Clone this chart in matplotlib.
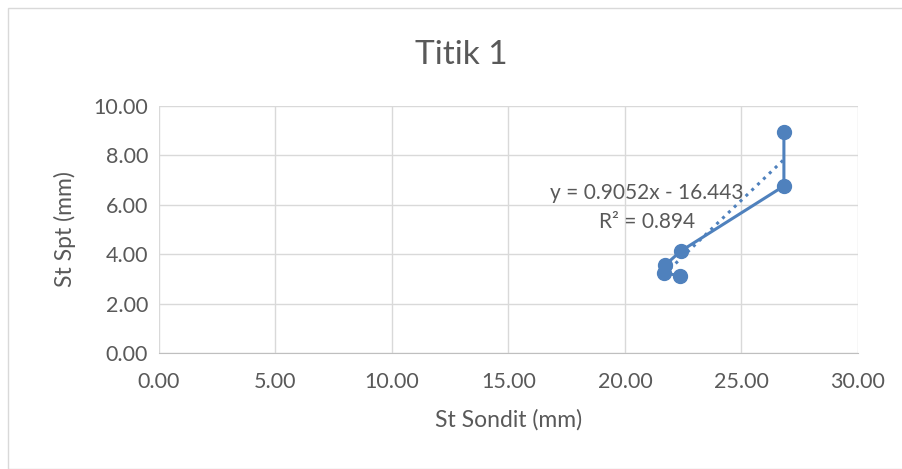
import matplotlib.pyplot as plt
from matplotlib.patches import Rectangle

# data
st_sondit = [22.36, 21.67, 21.72, 22.40, 26.82, 26.82]
st_spt = [3.13, 3.24, 3.56, 4.13, 6.76, 8.95]

slope = 0.9052
intercept = -16.443
r2 = 0.894

x_ticks = [0, 5, 10, 15, 20, 25, 30]
y_ticks = [0, 2, 4, 6, 8, 10]

blue = '#4F81BD'
grey_txt = '#595959'
plt.rcParams['font.family'] = ['Lato', 'DejaVu Sans']

fig = plt.figure(figsize=(9.03, 4.69), dpi=100)
fig.patches.append(Rectangle((8/903, 0), 1, 1 - 8/469, transform=fig.transFigure,
                             fill=False, edgecolor='#D9D9D9', lw=1))
ax = fig.add_axes([159/903, 116/469, 699/903, 247/469])

ax.plot(st_sondit, st_spt, '-o', color=blue, lw=2.2, markersize=10)

# linear trend line
xs = [min(st_sondit), max(st_sondit)]
ax.plot(xs, [slope*x + intercept for x in xs], ':', color=blue, lw=2.2)
ax.text(20.94, 6.48, 'y = 0.9052x - 16.443', ha='center', va='center',
        fontsize=15, color=grey_txt)
ax.text(20.94, 5.30, 'R² = %.3f' % r2, ha='center', va='center',
        fontsize=15, color=grey_txt)

ax.set_xlim(0, 30)
ax.set_ylim(0, 10)
ax.set_xticks(x_ticks)
ax.set_yticks(y_ticks)
ax.set_xticklabels(['%.2f' % v for v in x_ticks])
ax.set_yticklabels(['%.2f' % v for v in y_ticks])
ax.grid(True, color='#D9D9D9', lw=1)
ax.set_axisbelow(True)
for s in ['top', 'right', 'left']:
    ax.spines[s].set_visible(False)
ax.spines['bottom'].set_color('#BFBFBF')
ax.tick_params(axis='x', length=0, labelsize=15.5, colors=grey_txt, pad=14)
ax.tick_params(axis='y', length=0, labelsize=15.5, colors=grey_txt, pad=8)

fig.text(461/903, 1 - 55/469, 'Titik 1', ha='center', va='center',
         fontsize=24, color=grey_txt)
ax.set_xlabel('St Sondit (mm)', fontsize=16.5, color=grey_txt, labelpad=12)
ax.set_ylabel('St Spt (mm)', fontsize=16.5, color=grey_txt, labelpad=12)

fig.savefig('out.png', dpi=100)
